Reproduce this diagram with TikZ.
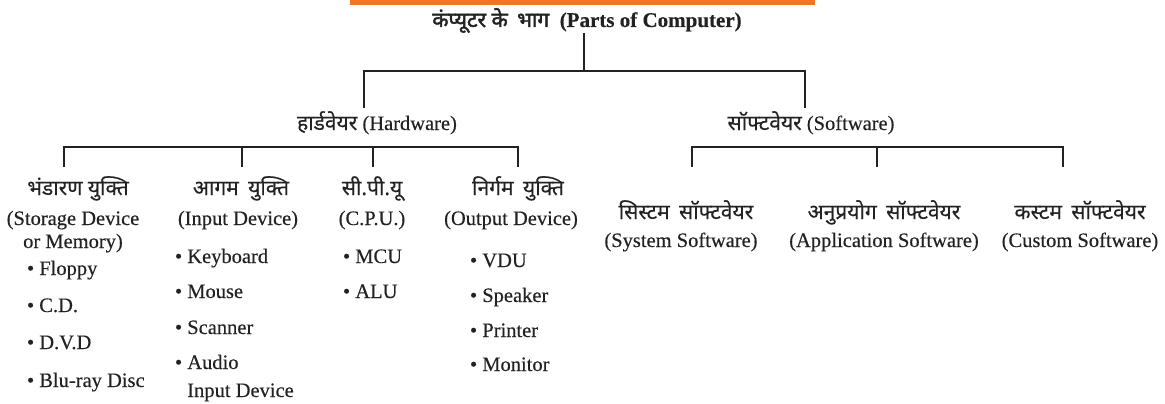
\documentclass[tikz,border=0pt]{standalone}
\usepackage{fontspec}
\setmainfont{Liberation Serif}[FakeBold=0.35]
\newfontfamily\hin[Script=Devanagari,FakeBold=0.3]{Noto Sans}
\newfontfamily\hinbold[Script=Devanagari,FakeBold=2.2]{Noto Sans}
\definecolor{accent}{HTML}{F47421}
\definecolor{ink}{HTML}{222222}
\newcommand{\wgap}{\hspace{0.45em}}

\begin{document}
\begin{tikzpicture}[x=1pt,y=-1pt,
  every node/.style={inner sep=0pt,outer sep=0pt,text=ink},
  en/.style={font=\fontsize{20.5}{24}\selectfont,anchor=base},
  hd/.style={font=\hin\fontsize{21}{24}\selectfont,anchor=base},
  item/.style={font=\fontsize{20.5}{24}\selectfont,anchor=base west},
  tree/.style={draw=ink,line width=2pt}]

\useasboundingbox (0,0) rectangle (1165,404);
\fill[accent] (350,0) rectangle (815,5);

% root
\node[en,font=\bfseries\fontsize{21}{24}\selectfont] (title) at (587,27)
  {{\hinbold कंप्यूटर के\wgap भाग}\ \ (Parts of Computer)};

% second level
\node[en] (hw) at (377,130) {{\hin\fontsize{21}{24}\selectfont हार्डवेयर}\ (Hardware)};
\node[en] (sw) at (811,130) {{\hin\fontsize{21}{24}\selectfont सॉफ्टवेयर}\ (Software)};

% hardware groups
\node[hd] (stH) at (78,195) {भंडारण युक्ति};
\node[en] (stE) at (73,225) {(Storage Device};
\node[en] (stE2) at (73,248) {or Memory)};
\node[hd] (inH) at (241,195) {आगम\wgap युक्ति};
\node[en] (inE) at (238,225) {(Input Device)};
\node[hd] (cpH) at (372,195) {सी.पी.यू};
\node[en] (cpE) at (372,225) {(C.P.U.)};
\node[hd] (ouH) at (518,195) {निर्गम\wgap युक्ति};
\node[en] (ouE) at (511,225) {(Output Device)};

% storage items
\node[item] (st1) at (27,275) {\textbullet\ Floppy};
\node[item] (st2) at (27,312) {\textbullet\ C.D.};
\node[item] (st3) at (27,349) {\textbullet\ D.V.D};
\node[item] (st4) at (27,387) {\textbullet\ Blu-ray Disc};
% input items
\node[item] (in1) at (175,263) {\textbullet\ Keyboard};
\node[item] (in2) at (175,298) {\textbullet\ Mouse};
\node[item] (in3) at (175,334) {\textbullet\ Scanner};
\node[item] (in4) at (175,369) {\textbullet\ Audio};
\node[item] (in5) at (175,397) {\hphantom{\textbullet\ }Input Device};
% cpu items
\node[item] (cp1) at (343,263) {\textbullet\ MCU};
\node[item] (cp2) at (343,298) {\textbullet\ ALU};
% output items
\node[item] (ou1) at (470,267) {\textbullet\ VDU};
\node[item] (ou2) at (470,302) {\textbullet\ Speaker};
\node[item] (ou3) at (470,337) {\textbullet\ Printer};
\node[item] (ou4) at (470,371) {\textbullet\ Monitor};

% software groups
\node[hd] (syH) at (686,219) {सिस्टम\wgap सॉफ्टवेयर};
\node[en] (syE) at (681,247) {(System Software)};
\node[hd] (apH) at (884,219) {अनुप्रयोग\wgap सॉफ्टवेयर};
\node[en] (apE) at (884,247) {(Application Software)};
\node[hd] (cuH) at (1080,219) {कस्टम\wgap सॉफ्टवेयर};
\node[en] (cuE) at (1080,247) {(Custom Software)};

% junction points of the tree
\coordinate (r0) at (584,32);
\coordinate (r1) at (584,71);
\coordinate (rh) at (364,71);
\coordinate (rs) at (805,71);
\coordinate (rhe) at (364,108);
\coordinate (rse) at (805,108);

\coordinate (h1) at (64,147);  \coordinate (h1e) at (64,167);
\coordinate (h2) at (242,147); \coordinate (h2e) at (242,167);
\coordinate (h3) at (373,147); \coordinate (h3e) at (373,167);
\coordinate (h4) at (518,147); \coordinate (h4e) at (518,167);

\coordinate (s1) at (692,147);  \coordinate (s1e) at (692,167);
\coordinate (s2) at (877,147);  \coordinate (s2e) at (877,167);
\coordinate (s3) at (1063,147); \coordinate (s3e) at (1063,167);

% connectors
\draw[tree] (title.south -| r0) -- (r1);
\draw[tree] (rhe) -- (rh) -- (rs) -- (rse);
\draw[tree] (h1e) -- (h1) -- (h4) -- (h4e);
\draw[tree] (h2) -- (h2e);
\draw[tree] (h3) -- (h3e);
\draw[tree] (s1e) -- (s1) -- (s3) -- (s3e);
\draw[tree] (s2) -- (s2e);
\end{tikzpicture}
\end{document}
